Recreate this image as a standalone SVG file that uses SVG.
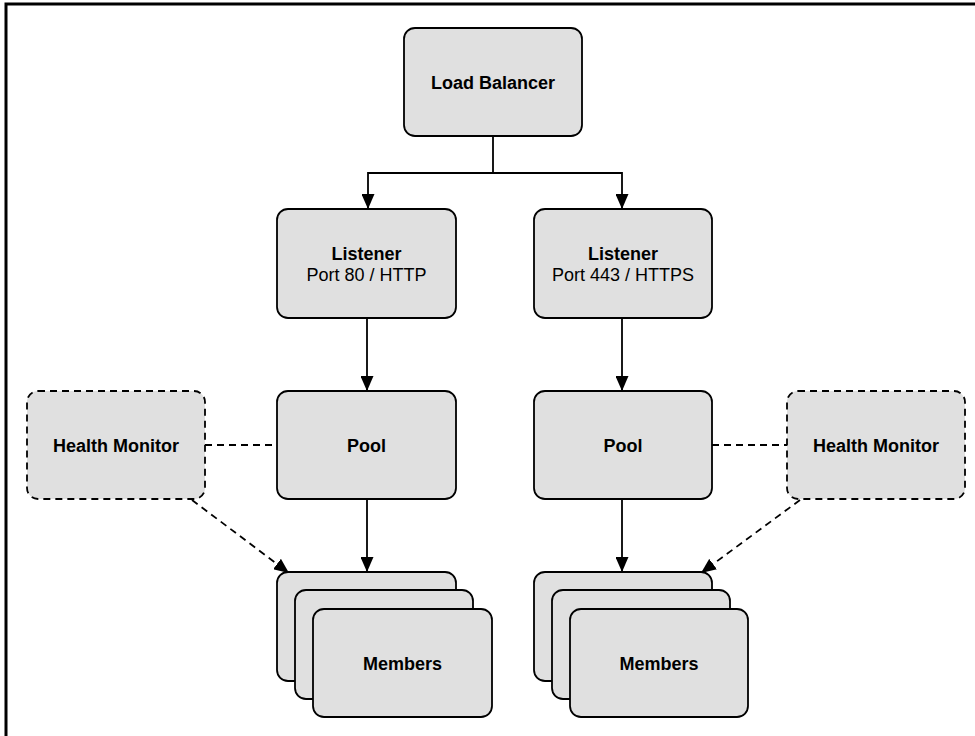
<svg xmlns="http://www.w3.org/2000/svg" width="975" height="736" viewBox="0 0 975 736">
<defs>
<style>
.box{fill:#e0e0e0;stroke:#000;stroke-width:1.8}
.dbox{fill:#e0e0e0;stroke:#000;stroke-width:1.8;stroke-dasharray:7,5}
.b{font-family:"Liberation Sans",Arial,sans-serif;font-weight:bold;font-size:18px;text-anchor:middle;fill:#000}
.r{font-family:"Liberation Sans",Arial,sans-serif;font-size:18px;text-anchor:middle;fill:#000}
.ln{fill:none;stroke:#000;stroke-width:1.8}
.dl{fill:none;stroke:#000;stroke-width:1.8;stroke-dasharray:7,5}
</style>
<marker id="ah2" viewBox="0 0 10 10" refX="10" refY="5" markerWidth="15" markerHeight="13" preserveAspectRatio="none" markerUnits="userSpaceOnUse" orient="auto">
<path d="M0,0 L10,5 L0,10 z" fill="#000"/>
</marker>
</defs>
<rect width="975" height="736" fill="#fff"/>
<path d="M6,736 V4 H975" fill="none" stroke="#000" stroke-width="3"/>

<g id="connectors">
<path class="ln" d="M493,137 V173 H368 V209" marker-end="url(#ah2)"/>
<path class="ln" d="M493,173 H622 V209" marker-end="url(#ah2)"/>
<path class="ln" d="M367,318 V391" marker-end="url(#ah2)"/>
<path class="ln" d="M622,318 V391" marker-end="url(#ah2)"/>
<path class="ln" d="M367,499 V572" marker-end="url(#ah2)"/>
<path class="ln" d="M622,499 V572" marker-end="url(#ah2)"/>
<path class="dl" d="M205,445 H277"/>
<path class="dl" d="M712,445 H787"/>
<path class="dl" d="M192,500 L289,573" marker-end="url(#ah2)"/>
<path class="dl" d="M800,500 L701,573" marker-end="url(#ah2)"/>
</g>

<g id="load-balancer">
<rect class="box" x="404" y="28" width="178" height="108" rx="11"/>
<text class="b" x="493" y="89">Load Balancer</text>
</g>
<g id="listener-http">
<rect class="box" x="277" y="209" width="179" height="109" rx="11"/>
<text class="b" x="366.5" y="260">Listener</text>
<text class="r" x="366.5" y="281">Port 80 / HTTP</text>
</g>
<g id="listener-https">
<rect class="box" x="534" y="209" width="178" height="109" rx="11"/>
<text class="b" x="623" y="260">Listener</text>
<text class="r" x="623" y="281">Port 443 / HTTPS</text>
</g>
<g id="pool-left">
<rect class="box" x="277" y="391" width="179" height="108" rx="11"/>
<text class="b" x="366.5" y="452">Pool</text>
</g>
<g id="pool-right">
<rect class="box" x="534" y="391" width="178" height="108" rx="11"/>
<text class="b" x="623" y="452">Pool</text>
</g>
<g id="health-monitor-left">
<rect class="dbox" x="27" y="391" width="178" height="108" rx="11"/>
<text class="b" x="116" y="452">Health Monitor</text>
</g>
<g id="health-monitor-right">
<rect class="dbox" x="787" y="391" width="178" height="108" rx="11"/>
<text class="b" x="876" y="452">Health Monitor</text>
</g>
<g id="members-left">
<rect class="box" x="277" y="572" width="179" height="109" rx="11"/>
<rect class="box" x="295" y="590" width="178" height="109" rx="11"/>
<rect class="box" x="313" y="609" width="179" height="108" rx="11"/>
<text class="b" x="402.5" y="670">Members</text>
</g>
<g id="members-right">
<rect class="box" x="534" y="572" width="178" height="109" rx="11"/>
<rect class="box" x="552" y="590" width="178" height="109" rx="11"/>
<rect class="box" x="570" y="609" width="178" height="108" rx="11"/>
<text class="b" x="659" y="670">Members</text>
</g>
</svg>
